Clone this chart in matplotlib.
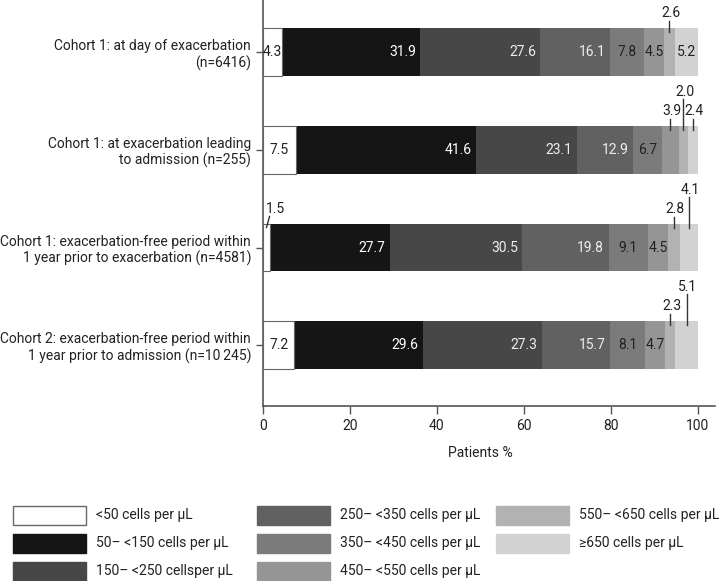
import numpy as np
import matplotlib.pyplot as plt
from matplotlib.patches import Rectangle
from matplotlib.transforms import blended_transform_factory

plt.rcParams['font.family'] = ['Roboto', 'DejaVu Sans']
FS = 10

# ---- data (rows top to bottom) ----
cohorts = ['Cohort 1: at day of exacerbation\n(n=6416)',
           'Cohort 1: at exacerbation leading\nto admission (n=255)',
           'Cohort 1: exacerbation-free period within\n1 year prior to exacerbation (n=4581)',
           'Cohort 2: exacerbation-free period within\n1 year prior to admission (n=10\u2009245)']
lt50 = [4.3, 7.5, 1.5, 7.2]
b50_150 = [31.9, 41.6, 27.7, 29.6]
b150_250 = [27.6, 23.1, 30.5, 27.3]
b250_350 = [16.1, 12.9, 19.8, 15.7]
b350_450 = [7.8, 6.7, 9.1, 8.1]
b450_550 = [4.5, 3.9, 4.5, 4.7]
b550_650 = [2.6, 2.0, 2.8, 2.3]
ge650 = [5.2, 2.4, 4.1, 5.1]
legend_labels = ['<50 cells per \u03bcL', '50\u2013 <150 cells per \u03bcL', '150\u2013 <250 cellsper \u03bcL',
                 '250\u2013 <350 cells per \u03bcL', '350\u2013 <450 cells per \u03bcL', '450\u2013 <550 cells per \u03bcL',
                 '550\u2013 <650 cells per \u03bcL', '\u2265650 cells per \u03bcL']
xticks = [0, 20, 40, 60, 80, 100]

series = [lt50, b50_150, b150_250, b250_350, b350_450, b450_550, b550_650, ge650]
colors = ['#ffffff', '#151515', '#474747', '#616161', '#7b7b7b', '#959595', '#b2b2b2', '#d2d2d2']
txtcol = ['#222222', 'white', '#eeeeee', '#eeeeee', '#222222', '#222222', '#222222', '#222222']

# labels drawn above the bar with a leader line: (row, series index, level)
outside = [(0, 6, 1), (1, 5, 1), (1, 6, 2), (1, 7, 1),
           (2, 0, 1), (2, 6, 1), (2, 7, 2), (3, 6, 1), (3, 7, 2)]

fig = plt.figure(figsize=(7.2, 5.81), dpi=100)
ax = fig.add_axes([263/720, 1-406/581, (715-263)/720, 406/581])

y = np.arange(len(cohorts))
h = 0.49
left = np.zeros(len(cohorts))
for i, (vals, col) in enumerate(zip(series, colors)):
    vals = np.array(vals)
    if i == 0:
        ax.barh(y, vals, left=left, height=h, color=col, edgecolor='#666666', linewidth=0.8, zorder=3)
    else:
        ax.barh(y, vals, left=left, height=h, color=col, linewidth=0, zorder=2)
    for r in range(len(cohorts)):
        if any(o[0] == r and o[1] == i for o in outside):
            continue
        v = vals[r]
        if v >= 10:
            ax.text(left[r] + v - 1.0, y[r], f'{v:.1f}', ha='right', va='center',
                    color=txtcol[i], fontsize=FS, zorder=5)
        else:
            ax.text(left[r] + v/2, y[r], f'{v:.1f}', ha='center', va='center',
                    color=txtcol[i], fontsize=FS, zorder=5)
    left += vals

# outside labels
px = 97.8  # pixels per y unit
starts = np.cumsum([np.zeros(4)] + [np.array(s) for s in series[:-1]], axis=0)
for r, i, lev in outside:
    v = series[i][r]
    xc = starts[i][r] + v/2
    top = y[r] - h/2
    if i == 0 and r == 2:
        ax.plot([0.8, 1.5], [top + 4/px, top - 7/px], color='#333333', lw=1, zorder=6)
        ax.text(2.8, top - 15/px, f'{v:.1f}', ha='center', va='center', fontsize=FS, color='#222222')
        continue
    off = 15 if lev == 1 else 34
    ltop = 7 if lev == 1 else 27
    ax.plot([xc, xc], [top + 4/px, top - ltop/px], color='#333333', lw=1, zorder=6)
    ax.text(xc + 0.3, top - off/px, f'{v:.1f}', ha='center', va='center', fontsize=FS, color='#222222')

ax.set_xlim(0, 104)
ax.set_ylim(len(cohorts) - 1 + 0.62, -0.53)
ax.set_yticks(y)
ax.set_yticklabels(cohorts, fontsize=FS, color='#222222', linespacing=1.2)
ax.set_xticks(xticks)
ax.set_xticklabels([str(t) for t in xticks], fontsize=FS, color='#222222')
ax.tick_params(axis='y', length=5, width=1, color='#555555', pad=3.5)
ax.tick_params(axis='x', length=6, width=1, color='#555555', pad=3.5)
for s in ['top', 'right']:
    ax.spines[s].set_visible(False)
for s in ['left', 'bottom']:
    ax.spines[s].set_color('#555555')
    ax.spines[s].set_linewidth(1.2)

tr = blended_transform_factory(ax.transData, ax.transAxes)
ax.text(50, -47/406, 'Patients %', transform=tr, ha='center', va='center', fontsize=FS, color='#222222')

# legend drawn by hand in pixel space
lax = fig.add_axes([0, 0, 1, 1], zorder=-1)
lax.set_xlim(0, 720)
lax.set_ylim(581, 0)
lax.axis('off')
col_x = [13, 257, 496]
row_y = [515, 543, 571]
for k, (lab, col) in enumerate(zip(legend_labels, colors)):
    c, r = k // 3, k % 3
    x0, yc = col_x[c], row_y[r]
    ec = '#666666' if k == 0 else col
    lax.add_patch(Rectangle((x0, yc - 9.5), 73, 19, facecolor=col, edgecolor=ec, lw=1))
    lax.text(x0 + 83, yc, lab, ha='left', va='center', fontsize=FS, color='#222222')

fig.savefig('out.png', dpi=100)
